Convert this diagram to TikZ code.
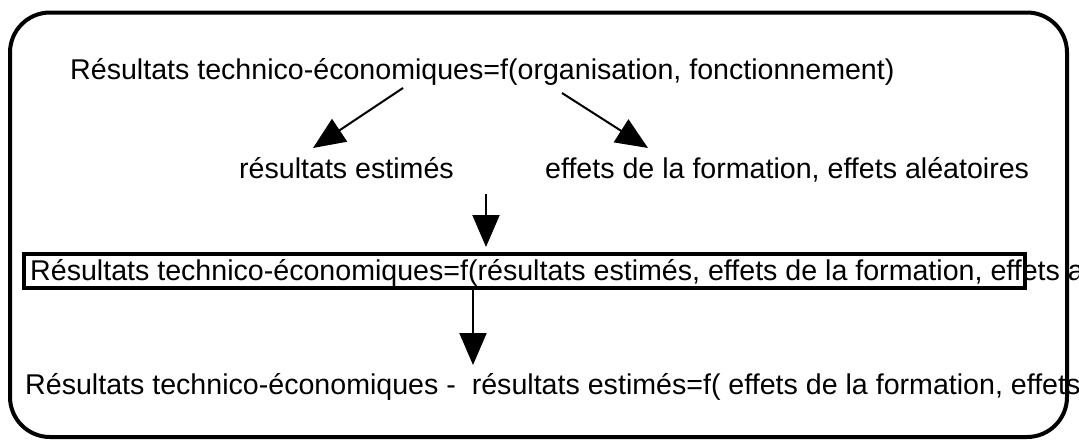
\documentclass[tikz,border=0pt]{standalone}
\usepackage{fontspec}
\setmainfont{Liberation Sans}
\usetikzlibrary{arrows.meta}
\begin{document}
\begin{tikzpicture}[x=1pt,y=-1pt,
  txt/.style={inner sep=0pt,anchor=base west,font=\fontsize{28.6}{30}\selectfont},
  arr/.style={line width=2pt,-{Triangle[length=32pt,width=27pt]}},
  frame/.style={line width=4pt,rounded corners=40pt},
  boxed/.style={line width=4pt}]
\useasboundingbox (0,0) rectangle (1079,440);
\clip (0,0) rectangle (1079,440);
\draw[frame] (10,12.5) rectangle (1067,437);
\draw[boxed] (24,254) rectangle (1025,288);
\node[txt] (l1) at (70,79) {Résultats technico-économiques=f(organisation, fonctionnement)};
\node[txt] (l2a) at (239,178) {résultats estimés};
\node[txt] (l2b) at (545,178) {effets de la formation, effets aléatoires};
\node[txt] (l3) at (30,280) {Résultats technico-économiques=f(résultats estimés, effets de la formation, effets a};
\node[txt] (l4) at (25,394) {Résultats technico-économiques -~ résultats estimés=f( effets de la formation, effets};
\coordinate (s1) at (403,88);
\coordinate (e1) at (313,148);
\coordinate (s2) at (562,93);
\coordinate (e2) at (648,148);
\coordinate (s3) at (486,194);
\coordinate (e3) at (486,247);
\coordinate (s4) at (473,290);
\coordinate (e4) at (473,365);
\draw[arr] (s1) -- (e1);
\draw[arr] (s2) -- (e2);
\draw[arr] (s3) -- (e3);
\draw[arr] (s4) -- (e4);
\end{tikzpicture}
\end{document}
